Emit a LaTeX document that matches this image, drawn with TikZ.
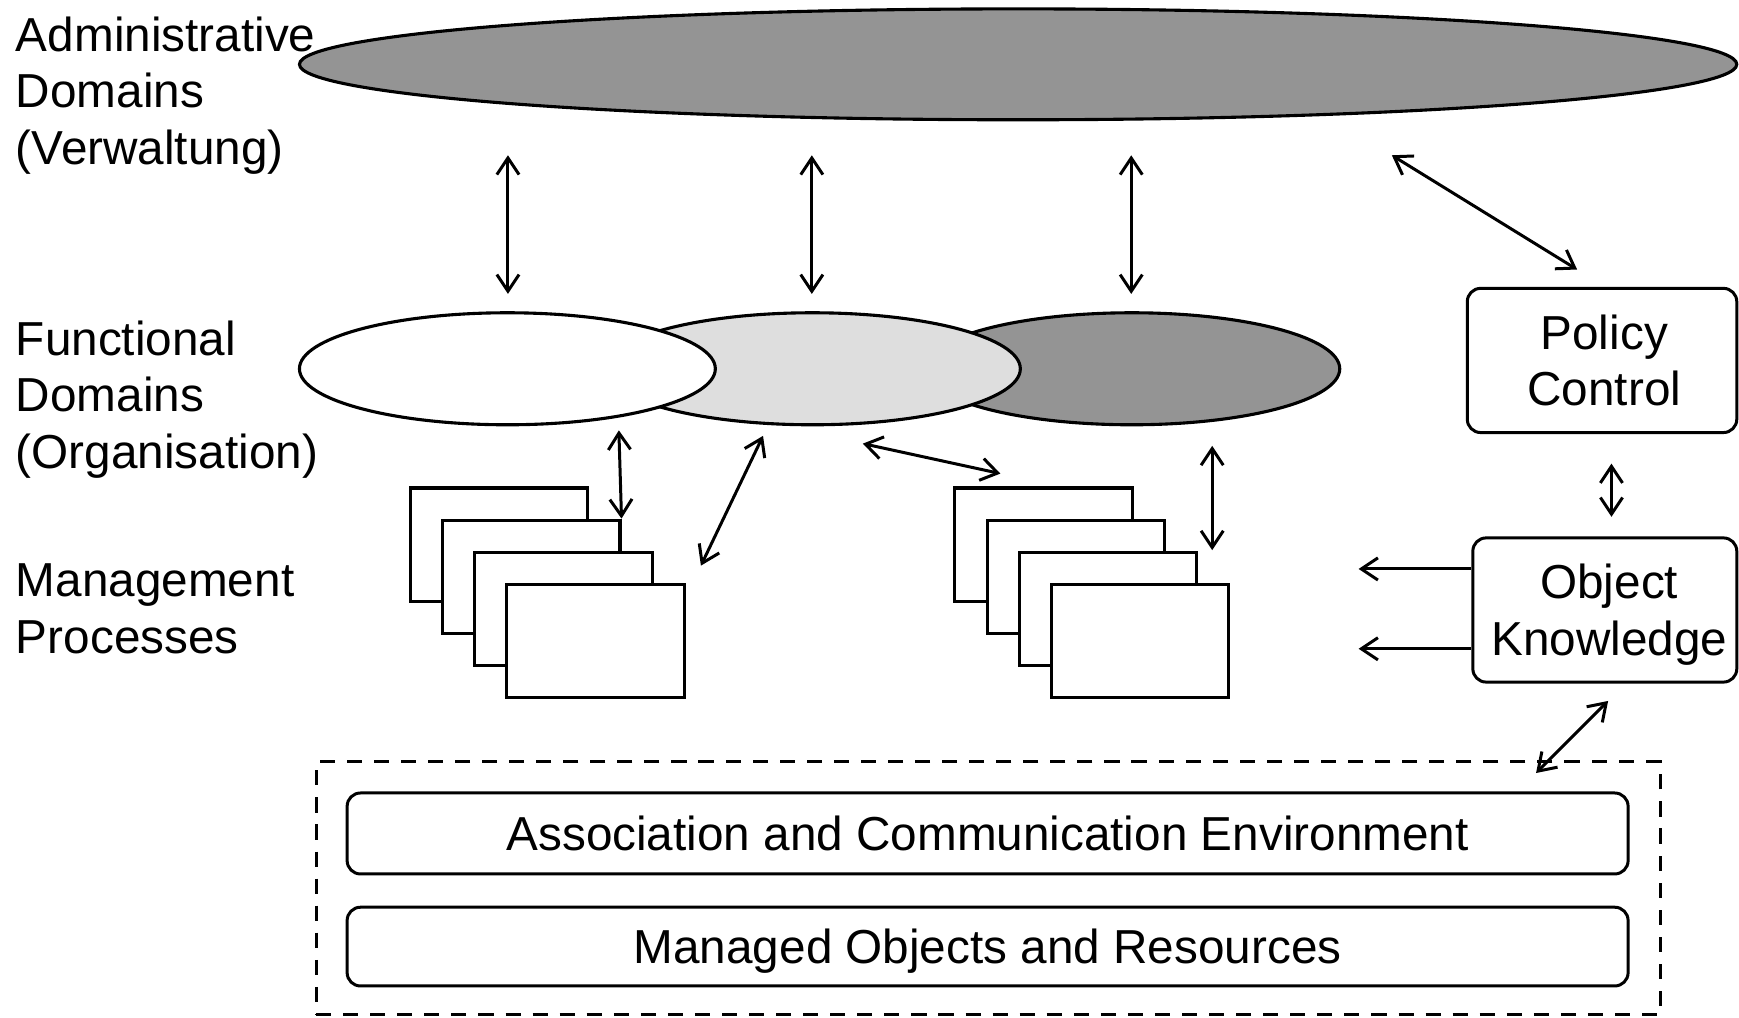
\documentclass[tikz,border=0pt]{standalone}
\usepackage{fontspec}
\setmainfont{Liberation Sans}
\usetikzlibrary{arrows.meta,shapes.geometric,calc}

\begin{document}
\begin{tikzpicture}[x=0.5pt,y=-0.5pt,
  txt/.style={font=\fontsize{21.5}{25.5}\selectfont},
  lbl/.style={txt, align=left, anchor=west, inner sep=0pt},
  dom/.style={ellipse, draw, line width=1.4pt, inner sep=0pt,
              minimum width=187.5pt, minimum height=50.5pt},
  proc/.style={rectangle, draw, fill=white, line width=1.4pt, inner sep=0pt,
               minimum width=80pt, minimum height=51pt},
  rbox/.style={rectangle, draw, rounded corners=6pt, line width=1.35pt, txt,
               align=center, inner sep=0pt},
  tip/.style={Straight Barb[length=7.5pt,width=10pt,line width=1.35pt]},
  link/.style={line width=1.35pt, {Straight Barb[length=7.5pt,width=10pt,line width=1.35pt]}-{Straight Barb[length=7.5pt,width=10pt,line width=1.35pt]}},
  oneway/.style={line width=1.35pt, -{Straight Barb[length=7.5pt,width=10pt,line width=1.35pt]}}
]
\useasboundingbox (0,0) rectangle (1568,917);

% administrative domain
\node[dom, fill=black!42, minimum width=648pt, minimum height=50pt] (adm) at (918,58) {};

% functional domains, back to front
\node[dom, fill=black!42] (f3) at (1020.5,332.5) {};
\node[dom, fill=black!13] (f2) at (732.5,332.5) {};
\node[dom, fill=white]    (f1) at (457.5,332.5) {};

% management process stacks
\foreach \i in {0,1,2,3} {
  \node[proc] (sa\i) at ({450+29*\i},{491+29*\i}) {};
  \node[proc] (sb\i) at ({941+29*\i},{491+29*\i}) {};
}

% layer labels
\node[lbl] (lab1) at (14,86) {Administrative\\Domains\\(Verwaltung)};
\node[lbl] (lab2) at (14,360) {Functional\\Domains\\(Organisation)};
\node[lbl] (lab3) at (14,549) {Management\\Processes};

% policy and object knowledge
\node[rbox, minimum width=121.5pt, minimum height=65pt] (pc) at (1444.5,325) {\hspace*{2pt}Policy\\\hspace*{2pt}Control};
\node[rbox, minimum width=119pt, minimum height=65pt, text depth=0pt] (ok) at (1447,550) {\hspace*{4pt}Object\\\hspace*{4pt}Knowledge};

% managed environment
\node[rectangle, draw, dash pattern=on 6.8pt off 5.4pt, line width=1.35pt,
      minimum width=606pt, minimum height=114pt, inner sep=0pt] (env) at (891,801) {};
\node[rbox, minimum width=577.5pt, minimum height=36.5pt] (ace) at (890.5,751.5)
  {Association and Communication Environment};
\node[rbox, minimum width=577.5pt, minimum height=35.5pt, text depth=0pt] (mor) at (890.5,853.5)
  {Managed Objects and Resources};

% connector end points
\coordinate (t1) at (458,140);  \coordinate (b1) at (458,265);
\coordinate (t2) at (732,140);  \coordinate (b2) at (732,265);
\coordinate (t3) at (1020,140); \coordinate (b3) at (1020,265);
\coordinate (pt) at (1255,140); \coordinate (pb) at (1422,243);
\coordinate (ua) at (558,388);
\coordinate (da) at (688,393);  \coordinate (db) at (632,510);
\coordinate (ea) at (778,400);  \coordinate (eb) at (902,427);
\coordinate (ga) at (1093,402); \coordinate (gb) at (1093,496);
\coordinate (pa) at (1453,418); \coordinate (pz) at (1453,466);
\coordinate (k1) at (1225,513); \coordinate (k2) at (1225,585);
\coordinate (oa) at (1450,632); \coordinate (ob) at (1385,697);

% connectors
\draw[link] (t1) -- (b1);
\draw[link] (t2) -- (b2);
\draw[link] (t3) -- (b3);
\draw[link] (pt) -- (pb);
\draw[link] (ua) -- (sa1.north east);
\draw[link] (da) -- (db);
\draw[link] (ea) -- (eb);
\draw[link] (ga) -- (gb);
\draw[link] (pa) -- (pz);
\draw[oneway] (ok.west |- k1) -- (k1);
\draw[oneway] (ok.west |- k2) -- (k2);
\draw[link] (oa) -- (ob);
\end{tikzpicture}
\end{document}
